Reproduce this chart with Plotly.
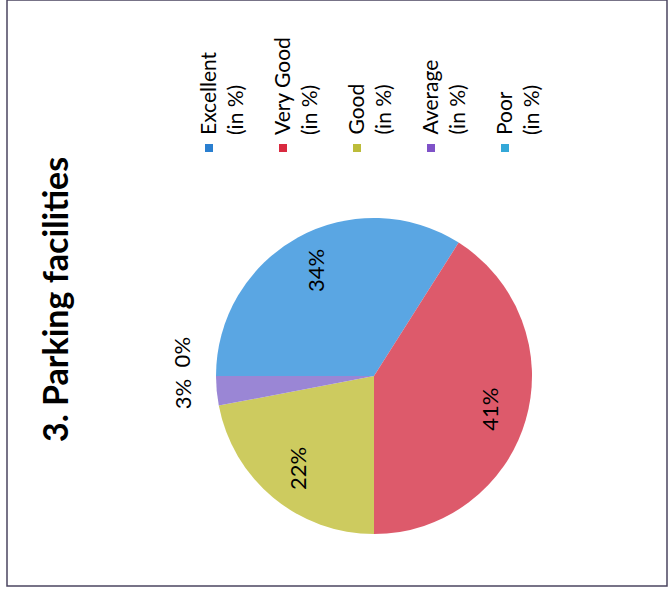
import math
import plotly.graph_objects as go

# data
categories = ['Excellent', 'Very Good', 'Good', 'Average', 'Poor']
values = [34, 41, 22, 3, 0]
legend_labels = ['Excellent<br>(in %)', 'Very Good<br>(in %)', 'Good<br>(in %)',
                 'Average<br>(in %)', 'Poor<br>(in %)']
title_text = '<b>3. Parking facilities</b>'

slice_colors = ['#5aa6e3', '#dd5a6b', '#cdcb5f', '#9a86d5', '#3fa9dc']
key_colors = ['#2a7fd0', '#d92a40', '#bcbc3a', '#7f52c8', '#34a8d8']

W, H = 670, 595
# pie centre / radius in pixels (page is rotated 90 degrees)
cx, cy, R = 374, 376, 158

fig = go.Figure()
fig.add_trace(go.Pie(labels = categories, values = values,
                     sort = False, direction = 'clockwise', rotation = -90,
                     textinfo = 'none', hoverinfo = 'label+percent',
                     showlegend = False,
                     marker = dict(colors = slice_colors, line = dict(width = 0)),
                     domain = dict(x = [(cx - R) / W, (cx + R) / W],
                                   y = [(H - cy - R) / H, (H - cy + R) / H])))

font = 'Lato, "Open Sans", sans-serif'
annotations = []
shapes = []

# percentage labels, rotated like the page
total = sum(values)
start = 0.0
prev_out = None
for v in values:
    share = 360.0 * v / total
    mid = math.radians(start + share / 2)
    inside = share > 30
    r = 0.76 * R if inside else 1.22 * R
    px = cx - math.cos(mid) * r
    py = cy - math.sin(mid) * r
    if not inside and prev_out is not None and abs(py - prev_out) < 42:
        py = prev_out - 42
    if not inside:
        prev_out = py
    annotations.append(dict(x = px / W, y = 1 - py / H, xref = 'paper', yref = 'paper',
                            text = f'{v}%', showarrow = False, textangle = -90,
                            xanchor = 'center', yanchor = 'middle',
                            font = dict(family = font, size = 22, color = 'black')))
    start += share

# title
annotations.append(dict(x = 54 / W, y = 1 - 300 / H, xref = 'paper', yref = 'paper',
                        text = title_text, showarrow = False, textangle = -90,
                        xanchor = 'center', yanchor = 'middle',
                        font = dict(family = font, size = 34, color = 'black')))

# rotated legend
for i, (lab, col) in enumerate(zip(legend_labels, key_colors)):
    x0 = 209 + 74 * i
    annotations.append(dict(x = (x0 - 16) / W, y = 1 - 137 / H, xref = 'paper', yref = 'paper',
                            text = lab, showarrow = False, textangle = -90,
                            xanchor = 'left', yanchor = 'bottom', align = 'left',
                            font = dict(family = font, size = 21, color = 'black')))
    shapes.append(dict(type = 'rect', xref = 'paper', yref = 'paper',
                       x0 = (x0 - 4) / W, x1 = (x0 + 4) / W,
                       y0 = 1 - 152 / H, y1 = 1 - 144 / H,
                       fillcolor = col, line = dict(width = 0)))

# page frame
shapes.append(dict(type = 'rect', xref = 'paper', yref = 'paper',
                   x0 = 7 / W, x1 = 667 / W, y0 = (H - 586) / H, y1 = 1.0,
                   line = dict(color = '#4b4560', width = 1.5)))

fig.update_layout(
    autosize = False,
    width = W,
    height = H,
    margin = dict(l = 0, r = 0, t = 0, b = 0),
    paper_bgcolor = 'white',
    plot_bgcolor = 'white',
    annotations = annotations,
    shapes = shapes)

fig.write_html("out.html", config = dict(displayModeBar = False),
               post_script = "document.body.style.margin = '0';")
